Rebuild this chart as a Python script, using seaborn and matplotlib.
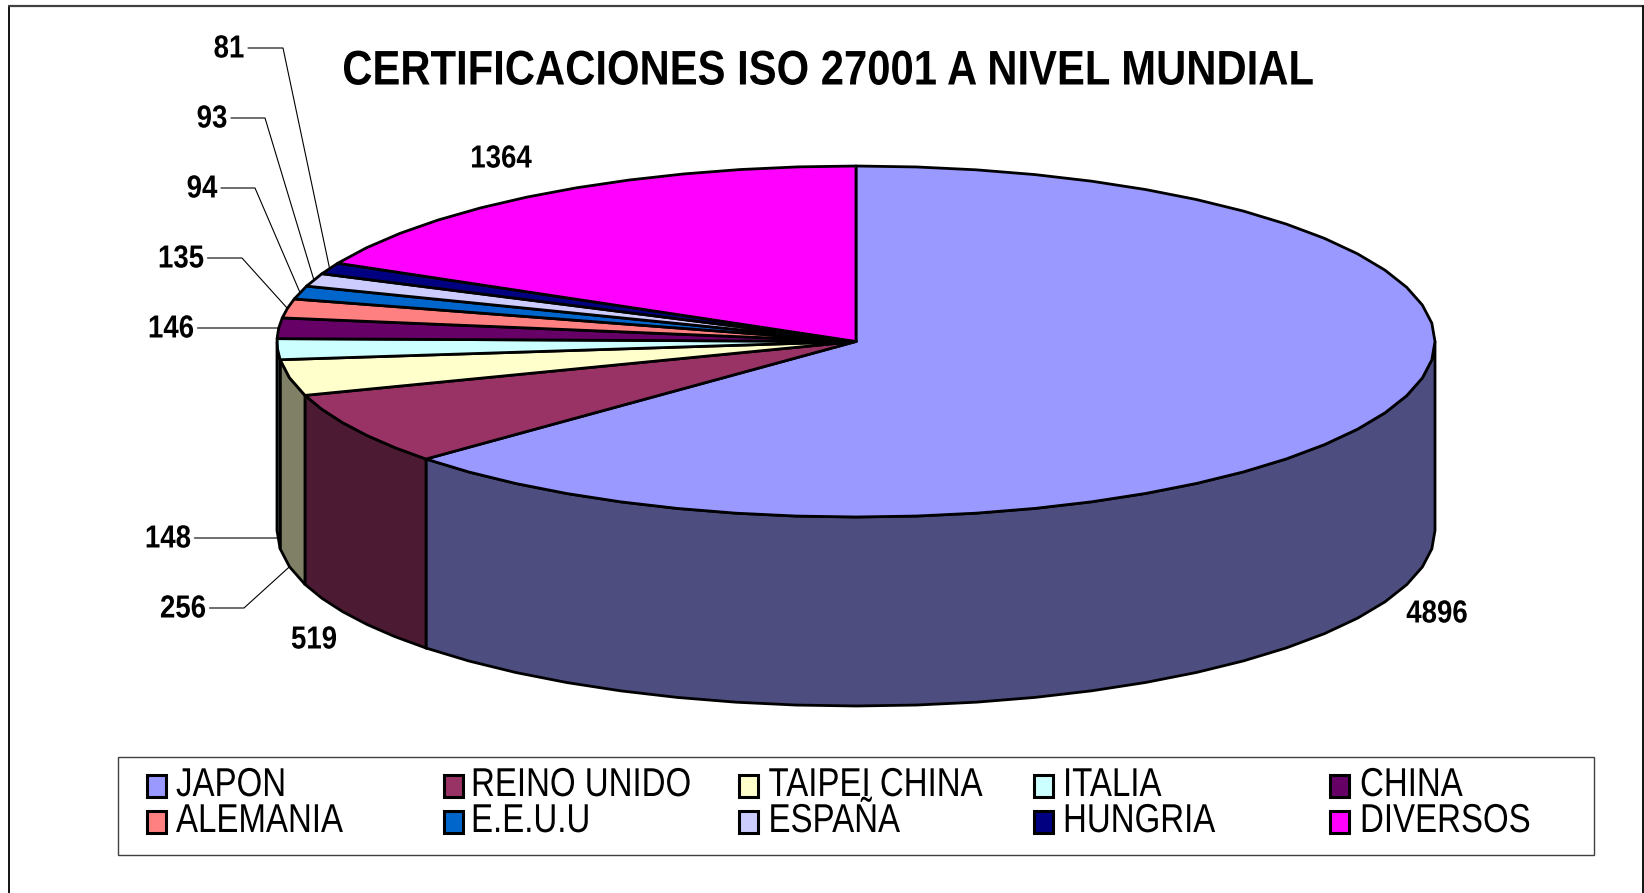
import matplotlib.patches as mpatches
import matplotlib.patheffects as path_effects
import matplotlib.pyplot as plt
import matplotlib.transforms as mtransforms
import seaborn as sns
import numpy as np

labels = ['JAPON', 'REINO UNIDO', 'TAIPEI CHINA', 'ITALIA', 'CHINA',
          'ALEMANIA', 'E.E.U.U', 'ESPAÑA', 'HUNGRIA', 'DIVERSOS']
values = [4896, 519, 256, 148, 146, 135, 94, 93, 81, 1364]
hex_colors = ['#9999FF', '#993366', '#FFFFCC', '#CCFFFF', '#660066',
              '#FF8080', '#0066CC', '#CCCCFF', '#000080', '#FF00FF']
title = 'CERTIFICACIONES ISO 27001 A NIVEL MUNDIAL'

sns.set_theme(style='white')
plt.rcParams['font.family'] = ['Liberation Sans', 'DejaVu Sans']
palette = sns.color_palette(hex_colors)

# pie geometry, in pixels of the picture
CX, CY, RX, RY, DEPTH = 856.0, 341.5, 579.0, 175.5, 189.0
LW = 2.0
DEG_PER_FACET = 6.0  # the original rim is a rough polygon, not a smooth curve

fig = plt.figure(figsize=(16.44, 8.93), dpi=100)
ax = fig.add_axes([0, 0, 1, 1])
ax.set_xlim(0, 1644)
ax.set_ylim(893, 0)
ax.axis('off')


class Squeeze(path_effects.AbstractPathEffect):
    # no narrow font is installed, so the text is squeezed around an anchor
    def __init__(self, sx, x0):
        super().__init__()
        self.sx = sx
        self.x0 = x0

    def draw_path(self, renderer, gc, tpath, affine, rgbFace=None):
        squeeze = (mtransforms.Affine2D().translate(-self.x0, 0)
                   .scale(self.sx, 1).translate(self.x0, 0))
        renderer.draw_path(gc, tpath, affine + squeeze, rgbFace)


def rim(theta, drop=0.0):
    t = np.radians(theta)
    return CX + RX * np.cos(t), CY - RY * np.sin(t) + drop


def arc_angles(a, b):
    n = max(2, int(abs(a - b) / DEG_PER_FACET) + 2)
    return np.linspace(a, b, n)


# clockwise from twelve o'clock
fractions = np.array(values) / sum(values)
edges = 90 - 360 * np.concatenate([[0], np.cumsum(fractions)])

# sides first, only the part of the rim that faces us
for i in range(len(values)):
    if edges[i] <= -180:
        continue
    arc = arc_angles(min(edges[i], 0), max(edges[i + 1], -180))
    x, y = rim(arc)
    pts = np.vstack([np.column_stack([x, y]),
                     np.column_stack([x[::-1], y[::-1] + DEPTH])])
    side = np.array(palette[i]) * 0.5
    ax.add_patch(mpatches.Polygon(pts, closed=True, facecolor=side,
                                  edgecolor='black', lw=LW, zorder=2))

# top wedges
for i in range(len(values)):
    x, y = rim(arc_angles(edges[i], edges[i + 1]))
    pts = np.vstack([[CX, CY], np.column_stack([x, y])])
    ax.add_patch(mpatches.Polygon(pts, closed=True, facecolor=palette[i],
                                  edgecolor='black', lw=LW, zorder=3,
                                  joinstyle='round'))

mids = (edges[:-1] + edges[1:]) / 2

# value labels: index -> text centre, elbow x (None means no leader)
label_spots = {
    0: (1437, 612, None),
    1: (314, 638, None),
    2: (183, 607, 244),
    3: (168, 537, 277),
    4: (171, 327, 277),
    5: (181, 257, 242),
    6: (202, 187, 255),
    7: (212, 117, 265),
    8: (229, 47, 283),
    9: (501, 157, None),
}
for i, (tx, ty, elbow) in label_spots.items():
    ax.text(tx, ty + 2.5, str(values[i]), ha='center', va='center',
            fontsize=23, fontweight='bold', color='black', zorder=5,
            path_effects=[Squeeze(0.865, tx)])
    if elbow is None:
        continue
    # front slices have their leader on the lower rim
    drop = DEPTH if i in (2, 3) else 0.0
    ex, ey = rim(mids[i], drop)
    half = len(str(values[i])) * 7.5 + 4
    ax.plot([tx + half, elbow, ex], [ty + 1, ty + 1, ey], color='black',
            lw=0.8, zorder=1)

ax.text(828, 72, title, ha='center', va='center', fontsize=35,
        fontweight='bold', color='black', zorder=5,
        path_effects=[Squeeze(0.86, 828)])

# legend box
ax.add_patch(mpatches.Rectangle((118, 757), 1476, 98, facecolor='white',
                                edgecolor='#404040', lw=1.0, zorder=1))
swatch_x = [147, 443.5, 739, 1034, 1329.5]
text_x = [176, 471, 768.5, 1063, 1360]
row_y = [786, 822]
for i, name in enumerate(labels):
    col, row = i % 5, i // 5
    ax.add_patch(mpatches.Rectangle((swatch_x[col], row_y[row] - 11), 19, 22,
                                    facecolor=palette[i], edgecolor='black',
                                    lw=2.2, zorder=3))
    ax.text(text_x[col], row_y[row] - 1, name, ha='left', va='center',
            fontsize=29, color='black', zorder=5,
            path_effects=[Squeeze(0.82, text_x[col])])

# outer frame
ax.plot([9, 9], [893, 6], color='black', lw=1.3, zorder=1)
ax.plot([9, 1643], [6, 6], color='#404040', lw=1.6, zorder=1)
ax.plot([1643, 1643], [6, 893], color='black', lw=1.3, zorder=1)

plt.savefig('out.png', dpi=100)
plt.close()
